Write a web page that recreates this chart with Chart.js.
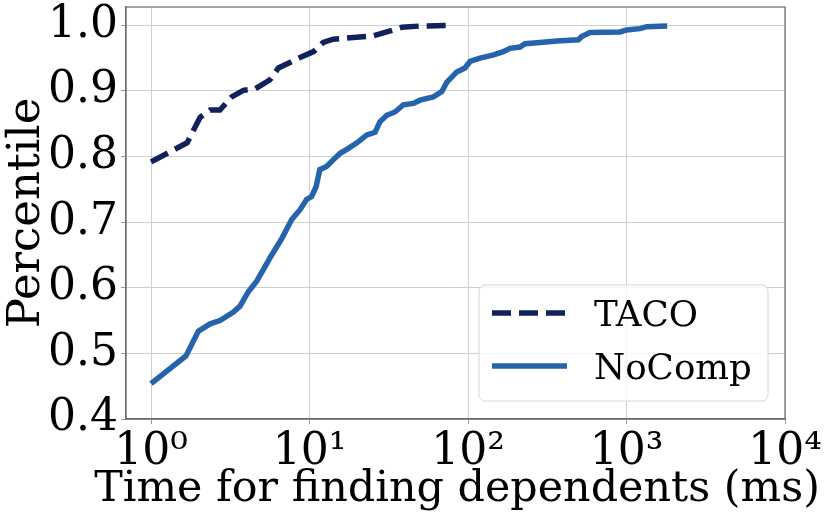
<!DOCTYPE html>
<html>
<head>
<meta charset="utf-8">
<script src="https://cdn.jsdelivr.net/npm/chart.js@4"></script>
<style>
  body { margin: 0; background: #fff; }
</style>
</head>
<body>
<canvas id="cdf" width="830" height="519"></canvas>
<script>
// TACO curve (dashed)
const tacoX = [1.0, 1.69, 2.04, 2.36, 2.72, 3.23, 3.82, 4.53, 5.63, 6.36, 8.71, 10.6, 12.2, 14.1, 25.3, 30.7, 38.2, 49.8, 78.9];
const tacoY = [0.792, 0.821, 0.860, 0.871, 0.871, 0.891, 0.901, 0.903, 0.917, 0.935, 0.951, 0.960, 0.974, 0.979, 0.984, 0.990, 0.997, 0.999, 1.0];

// NoComp curve (solid)
const nocompX = [1.0, 1.66, 1.99, 2.36, 2.72, 3.31, 3.64, 4.11, 4.64, 5.12, 5.77, 6.68, 7.72, 8.71, 9.60, 10.3, 11.0, 11.6, 12.8, 14.1, 15.6, 17.2, 19.9, 23.0, 25.9, 27.8, 30.7, 34.6, 39.1, 45.2, 49.8, 60.4, 68.3, 73.4, 84.9, 95.7, 103, 119, 145, 167, 184, 213, 229, 285, 363, 497, 521, 589, 910, 1002, 1217, 1341, 1807];
const nocompY = [0.454, 0.496, 0.534, 0.545, 0.550, 0.563, 0.572, 0.594, 0.610, 0.628, 0.650, 0.675, 0.704, 0.719, 0.735, 0.739, 0.754, 0.780, 0.785, 0.795, 0.805, 0.811, 0.821, 0.833, 0.837, 0.853, 0.863, 0.868, 0.879, 0.881, 0.886, 0.891, 0.899, 0.913, 0.929, 0.935, 0.945, 0.950, 0.955, 0.960, 0.965, 0.967, 0.972, 0.974, 0.976, 0.978, 0.983, 0.989, 0.990, 0.993, 0.995, 0.998, 0.999];

const xTicks = [1, 10, 100, 1000, 10000];
const xTickLabels = ["10⁰", "10¹", "10²", "10³", "10⁴"];
const yTicks = [0.4, 0.5, 0.6, 0.7, 0.8, 0.9, 1.0];

const xTitle = "Time for finding dependents (ms)";
const yTitle = "Percentile";

const FONT = "'DejaVu Serif', 'Liberation Serif', serif";
const tacoColor = "#10215c";
const nocompColor = "#2563ad";
const spineColor = "#6a6a6a";

// pick a font size so the text has about the width seen in the picture
function fitSize(text, width) {
  const c = document.createElement("canvas").getContext("2d");
  c.font = "100px " + FONT;
  return 100 * width / c.measureText(text).width;
}
const xTitleSize = fitSize(xTitle, 726);
const legendSize = fitSize("NoComp", 158);

function toPoints(xs, ys) {
  return xs.map((x, i) => ({ x: x, y: ys[i] }));
}

// top/right spines, x title (wider than the axis) and the legend box
const frameAndLegend = {
  id: "frameAndLegend",
  afterDatasetsDraw(chart) {
    const ctx = chart.ctx;
    const a = chart.chartArea;
    ctx.save();
    ctx.strokeStyle = spineColor;
    ctx.lineWidth = 1.2;
    ctx.strokeRect(a.left, a.top, a.right - a.left, a.bottom - a.top);

    // legend
    const bx = 479, by = 285, bw = 289, bh = 116, r = 6;
    ctx.beginPath();
    ctx.moveTo(bx + r, by);
    ctx.arcTo(bx + bw, by, bx + bw, by + bh, r);
    ctx.arcTo(bx + bw, by + bh, bx, by + bh, r);
    ctx.arcTo(bx, by + bh, bx, by, r);
    ctx.arcTo(bx, by, bx + bw, by, r);
    ctx.closePath();
    ctx.fillStyle = "rgba(255,255,255,0.8)";
    ctx.fill();
    ctx.strokeStyle = "#d6d6d6";
    ctx.lineWidth = 1;
    ctx.stroke();

    const rows = [313, 366];
    chart.data.datasets.forEach((ds, i) => {
      ctx.beginPath();
      ctx.setLineDash(ds.borderDash || []);
      ctx.strokeStyle = ds.borderColor;
      ctx.lineWidth = ds.borderWidth;
      ctx.moveTo(492, rows[i]);
      ctx.lineTo(567, rows[i]);
      ctx.stroke();
      ctx.setLineDash([]);
      ctx.fillStyle = "#000";
      ctx.font = legendSize + "px " + FONT;
      ctx.textBaseline = "alphabetic";
      ctx.fillText(ds.label, 594, rows[i] + 0.36 * legendSize);
    });

    // x axis title
    ctx.fillStyle = "#000";
    ctx.font = xTitleSize + "px " + FONT;
    ctx.textAlign = "center";
    ctx.textBaseline = "alphabetic";
    ctx.fillText(xTitle, 457, 501);
    ctx.restore();
  }
};

new Chart(document.getElementById("cdf"), {
  type: "line",
  data: {
    datasets: [
      {
        label: "TACO",
        data: toPoints(tacoX, tacoY),
        borderColor: tacoColor,
        borderWidth: 5.5,
        borderDash: [19, 8],
        pointRadius: 0,
        fill: false,
      },
      {
        label: "NoComp",
        data: toPoints(nocompX, nocompY),
        borderColor: nocompColor,
        borderWidth: 5.5,
        pointRadius: 0,
        fill: false,
      },
    ],
  },
  options: {
    responsive: false,
    animation: false,
    devicePixelRatio: 1,
    layout: { padding: { top: 7, right: 45, left: 0, bottom: 0 } },
    plugins: {
      legend: { display: false },
      tooltip: { enabled: false },
    },
    scales: {
      x: {
        type: "logarithmic",
        min: 0.695,
        max: 10000,
        afterBuildTicks: (scale) => {
          scale.ticks = xTicks.map((v) => ({ value: v }));
        },
        afterFit: (scale) => {
          scale.height = 100;
          scale.paddingLeft = 0;
          scale.paddingRight = 0;
        },
        ticks: {
          autoSkip: false,
          maxRotation: 0,
          color: "#000",
          padding: 2,
          font: { family: FONT, size: 44 },
          callback: (v) => {
            const i = xTicks.indexOf(v);
            return i >= 0 ? xTickLabels[i] : "";
          },
        },
        grid: { color: "#cfcfcf", lineWidth: 1, tickColor: "#999", tickLength: 5 },
        border: { color: spineColor, width: 1.2 },
        title: { display: false },
      },
      y: {
        min: 0.4,
        max: 1.028,
        afterBuildTicks: (scale) => {
          scale.ticks = yTicks.map((v) => ({ value: v }));
        },
        afterFit: (scale) => {
          scale.width = 126;
          scale.paddingTop = 0;
          scale.paddingBottom = 0;
        },
        ticks: {
          color: "#000",
          padding: 3,
          font: { family: FONT, size: 44 },
          callback: (v) => v.toFixed(1),
        },
        grid: { color: "#cfcfcf", lineWidth: 1, tickColor: "#999", tickLength: 5 },
        border: { color: spineColor, width: 1.2 },
        title: {
          display: true,
          text: yTitle,
          color: "#000",
          font: { family: FONT, size: 45 },
          padding: { top: 0, bottom: 0 },
        },
      },
    },
  },
  plugins: [frameAndLegend],
});
</script>
</body>
</html>
